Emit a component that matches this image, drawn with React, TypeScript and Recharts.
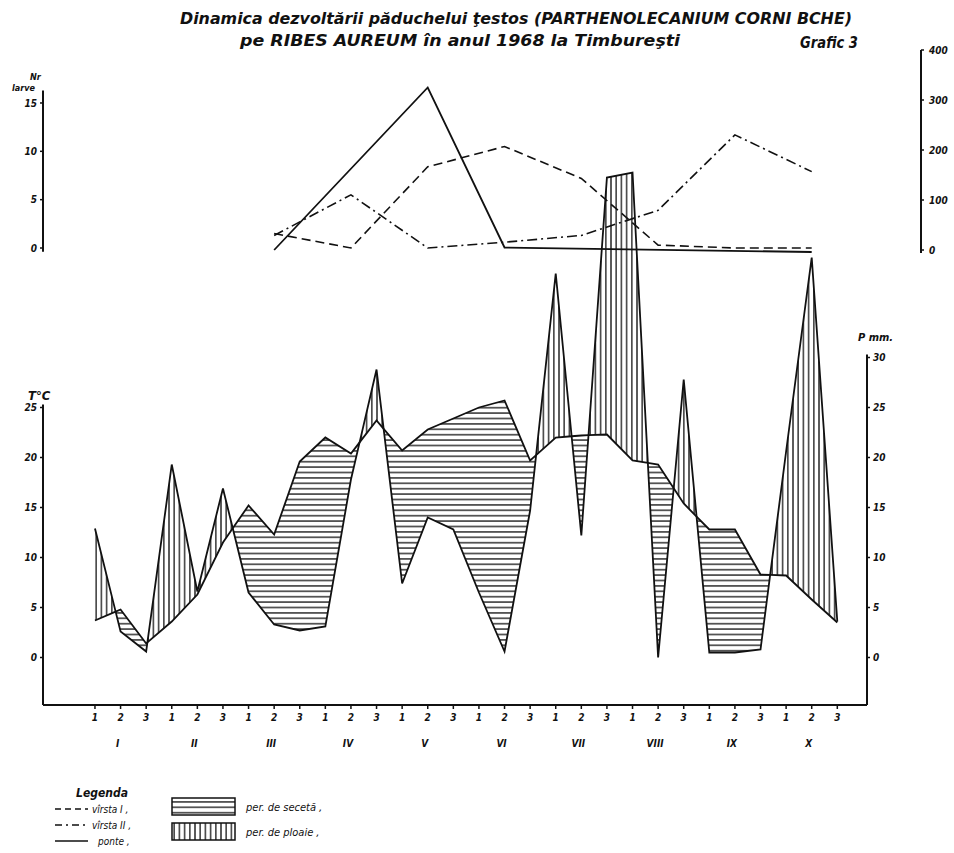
import React from "react";
import { ComposedChart, Line, Area, XAxis, YAxis, ReferenceLine } from "recharts";

const FONT = "'DejaVu Sans Condensed', 'DejaVu Sans', sans-serif";
const INK = "#111";

// lower graph: 30 ten-day periods, 3 per month
const decades = [1, 2, 3, 4, 5, 6, 7, 8, 9, 10, 11, 12, 13, 14, 15, 16, 17, 18, 19, 20, 21, 22, 23, 24, 25, 26, 27, 28, 29, 30];
const decadeLabels = ["1", "2", "3", "1", "2", "3", "1", "2", "3", "1", "2", "3", "1", "2", "3", "1", "2", "3", "1", "2", "3", "1", "2", "3", "1", "2", "3", "1", "2", "3"];
const monthLabels = ["I", "II", "III", "IV", "V", "VI", "VII", "VIII", "IX", "X"];

const temperature = [3.7, 4.8, 1.4, 3.6, 6.3, 11.5, 15.2, 12.3, 19.6, 22, 20.4, 23.7, 20.7, 22.8, 23.9, 25, 25.7, 19.7, 22, 22.2, 22.3, 19.7, 19.3, 15.4, 12.8, 12.8, 8.3, 8.2, 5.8, 3.5];
const rainfall = [12.9, 2.6, 0.6, 19.3, 6.6, 16.9, 6.5, 3.3, 2.7, 3.1, 17.8, 28.8, 7.4, 14, 12.8, 6.5, 0.6, 14.7, 38.4, 12.2, 48, 48.5, 0, 27.8, 0.5, 0.5, 0.8, 20.6, 40, 3.6];

// upper graph: one count per month, drawn at the middle decade
const sampleDecade = [8, 11, 14, 17, 20, 23, 26, 29];
const larvaeStage1 = [1.5, 0, 8.4, 10.5, 7.2, 0.3, 0, 0];
const larvaeStage2 = [1.3, 5.5, 0, 0.6, 1.3, 3.9, 11.7, 7.9];
const eggs = [0, null, 325, 5, null, null, null, -4];

const upperRows = sampleDecade.map((d, i) => ({
  x: d,
  l1: larvaeStage1[i],
  l2: larvaeStage2[i],
  eggs: eggs[i],
}));

// lower table; rows added where the two curves cross so the hatched bands close there
const lowerRows: any[] = [];
decades.forEach((d, i) => {
  const t = temperature[i];
  const p = rainfall[i];
  lowerRows.push({ x: d, t, p, dry: t >= p ? [p, t] : [t, t], wet: p >= t ? [t, p] : [p, p] });
  if (i < decades.length - 1) {
    const d0 = t - p;
    const d1 = temperature[i + 1] - rainfall[i + 1];
    if (d0 * d1 < 0) {
      const f = d0 / (d0 - d1);
      const v = t + f * (temperature[i + 1] - t);
      lowerRows.push({ x: d + f * (decades[i + 1] - d), t: v, p: v, dry: [v, v], wet: [v, v] });
    }
  }
});

const tickStyle = { fontSize: 10, fontStyle: "italic", fontWeight: 600, fill: INK, fontFamily: FONT };

const DecadeTick = (props: any) => {
  const { x, y, payload } = props;
  const i = payload.value - 1;
  return (
    <g>
      <text x={x} y={y + 10} textAnchor="middle" {...tickStyle}>
        {decadeLabels[i]}
      </text>
      {i % 3 === 1 && (
        <text x={x - 3} y={y + 36} textAnchor="middle" {...tickStyle} fontWeight={700}>
          {monthLabels[(i - 1) / 3]}
        </text>
      )}
    </g>
  );
};

const Hatches = ({ id }: { id: string }) => (
  <defs>
    <pattern id={id + "H"} patternUnits="userSpaceOnUse" width={8} height={5.4}>
      <line x1={0} y1={2.7} x2={8} y2={2.7} stroke={INK} strokeWidth={1.3} />
    </pattern>
    <pattern id={id + "V"} patternUnits="userSpaceOnUse" width={5.2} height={8}>
      <line x1={2.6} y1={0} x2={2.6} y2={8} stroke={INK} strokeWidth={1.3} />
    </pattern>
  </defs>
);

export default function App() {
  return (
    <div style={{ position: "absolute", left: 0, top: 0, width: 954, height: 853, background: "#fff" }}>
      {/* lower graph: temperature vs rainfall */}
      <div style={{ position: "absolute", left: 0, top: 0 }}>
        <ComposedChart width={954} height={853} data={lowerRows} margin={{ top: 160, right: 86, bottom: 118, left: 42 }}>
          <Hatches id="low" />
          <XAxis
            type="number"
            dataKey="x"
            domain={[-1.03, 31.16]}
            allowDataOverflow
            ticks={decades}
            interval={0}
            tick={<DecadeTick />}
            tickSize={4}
            height={30}
            axisLine={{ stroke: INK, strokeWidth: 2 }}
            tickLine={{ stroke: INK, strokeWidth: 1.5 }}
          />
          <YAxis
            yAxisId="t"
            type="number"
            domain={[-4.75, 49.75]}
            allowDataOverflow
            ticks={[0, 5, 10, 15, 20, 25]}
            width={1}
            axisLine={false}
            tickSize={3}
            tickMargin={3}
            tick={tickStyle}
            tickLine={{ stroke: INK, strokeWidth: 1.5 }}
          />
          <YAxis
            yAxisId="p"
            orientation="right"
            type="number"
            domain={[-4.75, 49.75]}
            allowDataOverflow
            ticks={[0, 5, 10, 15, 20, 25, 30]}
            width={1}
            axisLine={false}
            tickSize={3}
            tickMargin={3}
            tick={tickStyle}
            tickLine={{ stroke: INK, strokeWidth: 1.5 }}
          />
          <ReferenceLine yAxisId="t" segment={[{ x: -1.03, y: -4.75 }, { x: -1.03, y: 25.3 }]} stroke={INK} strokeWidth={2} ifOverflow="visible" />
          <ReferenceLine yAxisId="p" segment={[{ x: 31.16, y: -4.75 }, { x: 31.16, y: 30.3 }]} stroke={INK} strokeWidth={2} ifOverflow="visible" />
          <Area yAxisId="t" type="linear" dataKey="dry" stroke="none" fill="url(#lowH)" fillOpacity={1} isAnimationActive={false} />
          <Area yAxisId="t" type="linear" dataKey="wet" stroke="none" fill="url(#lowV)" fillOpacity={1} isAnimationActive={false} />
          <Line yAxisId="t" type="linear" dataKey="t" stroke={INK} strokeWidth={1.8} dot={false} isAnimationActive={false} />
          <Line yAxisId="t" type="linear" dataKey="p" stroke={INK} strokeWidth={1.8} dot={false} isAnimationActive={false} />
        </ComposedChart>
      </div>

      {/* upper graph: larvae and eggs */}
      <div style={{ position: "absolute", left: 0, top: 0 }}>
        <ComposedChart width={954} height={853} data={upperRows} margin={{ top: 50, right: 32, bottom: 600, left: 42 }}>
          <XAxis type="number" dataKey="x" domain={[-1.03, 33.27]} allowDataOverflow hide />
          <YAxis
            yAxisId="n"
            type="number"
            domain={[-0.517, 20.48]}
            allowDataOverflow
            ticks={[0, 5, 10, 15]}
            width={1}
            axisLine={false}
            tickSize={3}
            tickMargin={3}
            tick={tickStyle}
            tickLine={{ stroke: INK, strokeWidth: 1.5 }}
          />
          <YAxis
            yAxisId="e"
            orientation="right"
            type="number"
            domain={[-6, 400]}
            allowDataOverflow
            ticks={[0, 100, 200, 300, 400]}
            width={1}
            axisLine={{ stroke: INK, strokeWidth: 2 }}
            tickSize={3}
            tickMargin={5}
            tick={tickStyle}
            tickLine={{ stroke: INK, strokeWidth: 1.5 }}
          />
          <ReferenceLine yAxisId="n" segment={[{ x: -1.03, y: -0.4 }, { x: -1.03, y: 16.3 }]} stroke={INK} strokeWidth={2} ifOverflow="visible" />
          <Line yAxisId="n" type="linear" dataKey="l1" stroke={INK} strokeWidth={1.6} strokeDasharray="9 5" dot={false} isAnimationActive={false} />
          <Line yAxisId="n" type="linear" dataKey="l2" stroke={INK} strokeWidth={1.6} strokeDasharray="10 4 2 4" dot={false} isAnimationActive={false} />
          <Line yAxisId="e" type="linear" dataKey="eggs" connectNulls stroke={INK} strokeWidth={1.8} dot={false} isAnimationActive={false} />
        </ComposedChart>
      </div>

      {/* titles, axis names, legend */}
      <svg width={954} height={853} style={{ position: "absolute", left: 0, top: 0, pointerEvents: "none" }}>
        <Hatches id="leg" />
        <g fontFamily={FONT} fontStyle="italic" fill={INK}>
          <text x={180} y={24} fontSize={16} fontWeight={600} textLength={672} lengthAdjust="spacingAndGlyphs">
            Dinamica dezvoltării păduchelui ţestos (PARTHENOLECANIUM CORNI BCHE)
          </text>
          <text x={240} y={46} fontSize={16} fontWeight={600} textLength={440} lengthAdjust="spacingAndGlyphs">
            pe RIBES AUREUM în anul 1968 la Timbureşti
          </text>
          <text x={800} y={48} fontSize={15} fontWeight={600} textLength={58} lengthAdjust="spacingAndGlyphs">
            Grafic 3
          </text>
          <text x={30} y={80} fontSize={9} fontWeight={700}>Nr</text>
          <text x={12} y={91} fontSize={9} fontWeight={700}>larve</text>
          <text x={28} y={400} fontSize={13} fontWeight={600}>T°C</text>
          <text x={858} y={341} fontSize={11} fontWeight={700}>P mm.</text>

          <text x={76} y={797} fontSize={13} fontWeight={600} textLength={52} lengthAdjust="spacingAndGlyphs">Legenda</text>
          <line x1={55} y1={809} x2={88} y2={809} stroke={INK} strokeWidth={1.5} strokeDasharray="6 4" />
          <text x={92} y={813} fontSize={10}>vîrsta I ,</text>
          <line x1={55} y1={825} x2={88} y2={825} stroke={INK} strokeWidth={1.5} strokeDasharray="7 4 2 4" />
          <text x={92} y={829} fontSize={10}>vîrsta II ,</text>
          <line x1={55} y1={841} x2={88} y2={841} stroke={INK} strokeWidth={1.5} />
          <text x={98} y={845} fontSize={10}>ponte ,</text>

          <rect x={172} y={798} width={63} height={17} fill="url(#legH)" stroke={INK} strokeWidth={1.5} />
          <text x={246} y={811} fontSize={11}>per. de secetă ,</text>
          <rect x={172} y={823} width={63} height={17} fill="url(#legV)" stroke={INK} strokeWidth={1.5} />
          <text x={246} y={836} fontSize={11}>per. de ploaie ,</text>
        </g>
      </svg>
    </div>
  );
}
